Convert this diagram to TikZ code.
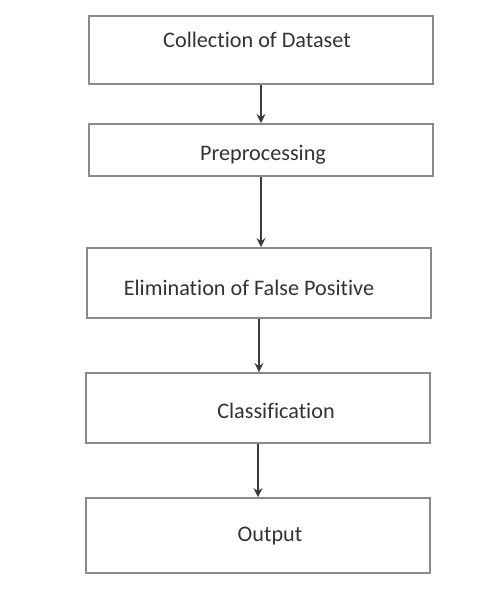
\documentclass[tikz,border=0pt]{standalone}
\usepackage{fontspec}
\setmainfont{Carlito}[Ligatures=NoCommon]
\usetikzlibrary{arrows.meta,positioning}
\definecolor{cBox}{HTML}{8A8A8A}
\definecolor{cTxt}{HTML}{333333}
\definecolor{cArr}{HTML}{3A3A3A}
\tikzset{
  stage/.style={draw=cBox, line width=1.8pt, fill=white, inner sep=0pt,
    minimum width=344pt},
  lbl/.style={text=cTxt, font=\fontsize{22.2}{26}\selectfont, inner sep=0pt, anchor=center},
  flow/.style={-{Stealth[length=9pt,width=9pt]}, draw=cArr, line width=1.5pt},
}
\begin{document}
\begin{tikzpicture}[x=1pt, y=-1pt]
    \useasboundingbox (0,0) rectangle (501,594);
    % boxes
    \node[stage, minimum height=68pt] (collect) at (261,50)  {};
    \node[stage, minimum height=52pt] (prep)    at (261,150) {};
    \node[stage, minimum height=70pt] (elim)    at (259,283) {};
    \node[stage, minimum height=70pt] (classif) at (258,408) {};
    \node[stage, minimum height=75pt] (out)     at (258,535.5) {};
    % texts
    \node[lbl] (tCollect) at (257,40)  {Collection of Dataset};
    \node[lbl] (tPrep)    at (263,155) {Preprocessing};
    \node[lbl] (tElim)    at (249,288) {Elimination of False Positive};
    \node[lbl] (tClassif) at (276,411) {Classification};
    \node[lbl] (tOut)     at (270,536) {Output};
    % arrows
    \draw[flow] (collect.south) -- (prep.north);
    \draw[flow] (prep.south)    -- (prep.south |- elim.north);
    \draw[flow] (elim.south)    -- (elim.south |- classif.north);
    \draw[flow] (classif.south) -- (out.north);
\end{tikzpicture}
\end{document}
